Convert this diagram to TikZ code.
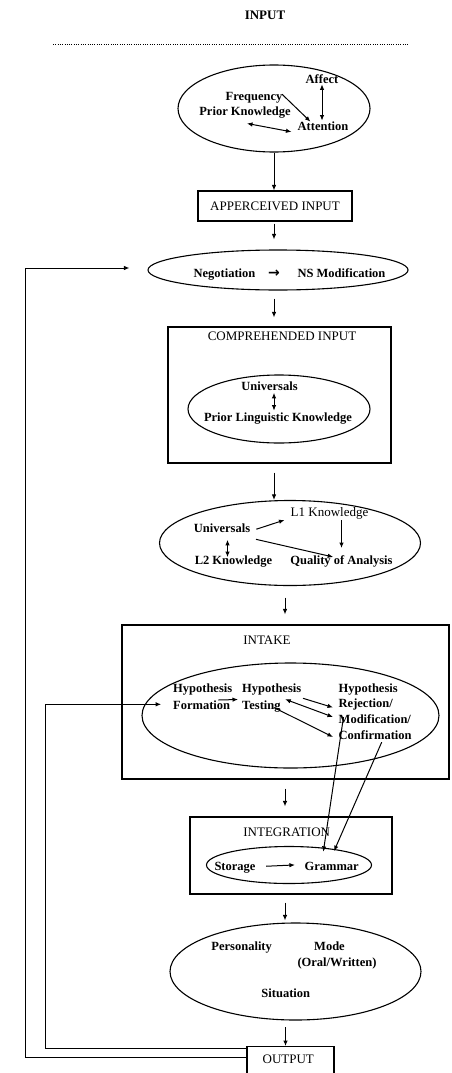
\documentclass[tikz,border=0pt]{standalone}
\usepackage{fontspec}
\setmainfont{Liberation Serif}
\newfontfamily\arrowfont{DejaVu Sans}
\usetikzlibrary{arrows.meta,shapes.geometric,calc}
\begin{document}
\begin{tikzpicture}[x=1pt,y=-1pt,
  box/.style={draw,line width=1.1pt,inner sep=0pt},
  oval/.style={draw,ellipse,line width=1.1pt,inner sep=0pt},
  lbl/.style={font=\fontsize{12.5}{15}\selectfont\bfseries,inner sep=1pt},
  ttl/.style={font=\fontsize{13}{15}\selectfont,inner sep=1pt},
  arr/.style={-{Latex[length=5.5pt,width=4.5pt]},line width=1pt},
  darr/.style={{Latex[length=5.5pt,width=4.5pt]}-{Latex[length=5.5pt,width=4.5pt]},line width=1pt},
  link/.style={line width=1pt}]
\useasboundingbox (0,0) rectangle (452,1073);
\fill[white] (0,0) rectangle (452,1073);
\clip (0,0) rectangle (452,1073);

% heading and dotted rule
\node[ttl,font=\fontsize{13}{15}\selectfont\bfseries,anchor=base] (input) at (265,19.5) {INPUT};
\coordinate (ruleL) at (53,44.5);
\coordinate (ruleR) at (408,44.5);
\draw[line width=0.8pt,dash pattern=on 0.9pt off 1.4pt] (ruleL) -- (ruleR);

% attention stage
\node[oval,minimum width=192pt,minimum height=87pt] (e1) at (274,108.5) {};
\node[lbl,anchor=base] (affect) at (322,83) {Affect};
\node[lbl,anchor=base] (freq) at (254,100.5) {Frequency};
\node[lbl,anchor=base] (prior) at (245,115.5) {Prior Knowledge};
\node[lbl,anchor=base] (attn) at (323,130.5) {Attention};
\draw[arr] ($(freq.east)+(-1.5,-3.5)$) -- ($(attn.north west)+(14,1)$);
\draw[darr] (affect.south) -- (affect.south |- attn.north);
\draw[darr] ($(prior.south)+(2,4)$) -- ($(attn.south west)+(-5,0)$);

% apperceived input
\node[box,ttl,minimum width=154pt,minimum height=30pt] (app) at (275,206) {APPERCEIVED INPUT};
\draw[arr] (e1.south) -- (e1.south |- app.north);

% negotiation
\node[oval,minimum width=260pt,minimum height=40pt] (neg) at (278,270) {};
\node[lbl,anchor=base] (negA) at (224.5,277) {Negotiation};
\node[lbl,anchor=base,font=\fontsize{14}{15}\selectfont\arrowfont\bfseries] (negB) at (274,277) {→};
\node[lbl,anchor=base] (negC) at (341.5,277) {NS Modification};
\draw[arr] ($(app.south)+(-1,2)$) -- ($(app.south |- neg.north)+(-1,-10)$);

% comprehended input
\node[box,minimum width=223pt,minimum height=136pt] (comp) at (279.5,395) {};
\node[ttl,anchor=base] (compT) at (282,340.5) {COMPREHENDED INPUT};
\node[oval,minimum width=182pt,minimum height=68pt] (e2) at (279,409) {};
\node[lbl,anchor=base] (univ2) at (269.5,390) {Universals};
\node[lbl,anchor=base] (pling) at (278,421) {Prior Linguistic Knowledge};
\draw[darr] ($(univ2.south)+(4.5,1.5)$) -- ($(univ2.south |- pling.north)+(4.5,-0.5)$);
\draw[arr] ($(neg.south)+(-4,8)$) -- ($(neg.south |- comp.north)+(-4,-9)$);

% analysis
\node[oval,minimum width=261pt,minimum height=85pt] (e3) at (290,543) {};
\node[lbl,anchor=base] (univ3) at (222,532.5) {Universals};
\node[ttl,anchor=base] (l1) at (329.5,516) {L1 Knowledge};
\node[lbl,anchor=base] (l2) at (233.5,564) {L2 Knowledge};
\node[lbl,anchor=base] (qual) at (341.5,564) {Quality of Analysis};
\draw[arr] ($(univ3.east)+(5,1)$) -- ($(l1.south west)+(-5,0)$);
\draw[arr] ($(l1.south)+(12,0)$) -- ($(l1.south |- qual.north)+(12,-6)$);
\draw[arr] ($(univ3.south)+(34,5.5)$) -- ($(qual.north west)+(44,3)$);
\draw[darr] ($(univ3.south)+(5.5,6)$) -- ($(univ3.south |- l2.north)+(5.5,3)$);
\draw[arr] ($(comp.south)+(-5.5,9)$) -- ($(comp.south |- e3.north)+(-5.5,0)$);

% intake
\node[box,minimum width=327pt,minimum height=154pt] (intake) at (285.5,702) {};
\node[ttl,anchor=base] (intakeT) at (267,644.5) {INTAKE};
\node[oval,minimum width=297pt,minimum height=105pt] (e4) at (290.5,715.5) {};
\node[lbl,anchor=base west] (hf1) at (172,692.5) {Hypothesis};
\node[lbl,anchor=base west] (hf2) at (172,709) {Formation};
\node[lbl,anchor=base west] (ht1) at (241,692.5) {Hypothesis};
\node[lbl,anchor=base west] (ht2) at (241,709) {Testing};
\node[lbl,anchor=base west] (hr1) at (337.5,692.5) {Hypothesis};
\node[lbl,anchor=base west] (hr2) at (337.5,707.5) {Rejection/};
\node[lbl,anchor=base west] (hr3) at (337.5,723.5) {Modification/};
\node[lbl,anchor=base west] (hr4) at (337.5,739) {Confirmation};
\draw[arr] ($(hf2.base east)+(-13,-9)$) -- ($(ht2.base west)+(-3,-9.5)$);
\draw[darr] ($(ht2.base east)+(3.4,-9.7)$) -- ($(hr3.base west)+(-4.5,-6.5)$);
\draw[arr] ($(ht1.base east)+(0.6,5.8)$) -- ($(hr2.base west)+(-4.5,0)$);
\draw[arr] ($(ht2.base east)+(-8,-1.5)$) -- ($(hr4.base west)+(-4.5,-2)$);
\draw[arr] ($(e3.south)+(-5,11.5)$) -- ($(e3.south |- intake.north)+(-5,-10)$);

% integration
\node[box,minimum width=202pt,minimum height=77pt] (integ) at (291,855.5) {};
\node[ttl,anchor=base] (integT) at (286.7,836) {INTEGRATION};
\node[oval,minimum width=165pt,minimum height=37pt] (e6) at (289,865) {};
\node[lbl,anchor=base] (storage) at (235,870) {Storage};
\node[lbl,anchor=base] (grammar) at (331.7,870) {Grammar};
\draw[arr] ($(storage.east)+(9.5,-1)$) -- ($(grammar.west)+(-8.5,-1)$);
\draw[arr] ($(hr3.base west)+(6,-6.5)$) -- ($(grammar.north)+(-8.4,-8.7)$);
\draw[arr] ($(hr4.base west)+(44.2,3.2)$) -- ($(grammar.north)+(2.3,-9.4)$);
\draw[arr] ($(intake.south)+(-0.5,9)$) -- ($(intake.south |- integ.north)+(-0.5,-10)$);

% production factors
\node[oval,minimum width=251pt,minimum height=97pt] (e5) at (295.5,971.5) {};
\node[lbl,anchor=base] (pers) at (241.7,950) {Personality};
\node[lbl,anchor=base] (mode) at (329.5,950) {Mode};
\node[lbl,anchor=base] (oralw) at (337,966.5) {(Oral/Written)};
\node[lbl,anchor=base] (sit) at (285.8,997) {Situation};
\draw[arr] ($(integ.south)+(-6,8)$) -- ($(integ.south |- e5.north)+(-6,-2)$);

% output
\node[box,minimum width=87pt,minimum height=44pt,anchor=north] (out) at (290.5,1046) {};
\node[ttl,anchor=base] (outT) at (288.3,1063) {OUTPUT};
\draw[arr] ($(e5.south)+(-10,6.5)$) -- ($(e5.south |- out.north)+(-10,0)$);

% feedback loops
\coordinate (fbOuter) at (25,268);
\coordinate (fbInner) at (45,704.3);
\draw[arr] ($(out.north west)+(0,11)$) -| (fbOuter) -- ($(neg.west)+(-18,-2)$);
\draw[arr] ($(out.north west)+(0,2)$) -| (fbInner) -- ($(e4.west)+(19.7,-11.2)$);
\end{tikzpicture}
\end{document}
